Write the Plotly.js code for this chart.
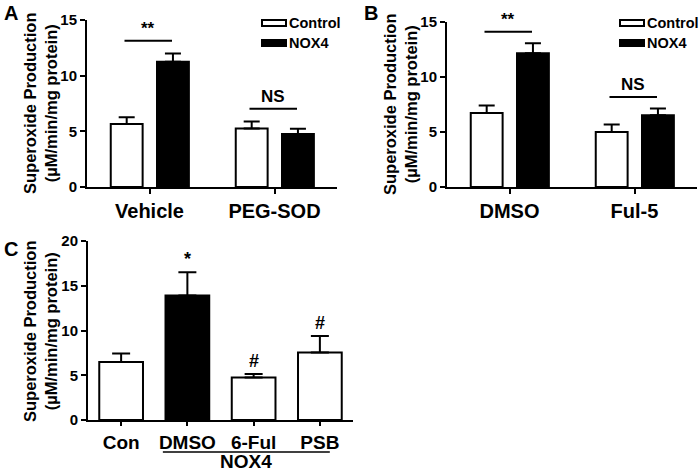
<!DOCTYPE html>
<html><head><meta charset="utf-8">
<script src="https://cdn.plot.ly/plotly-3.0.1.min.js"></script>
<style>html,body{margin:0;padding:0;background:#fff}#chart{width:700px;height:473px}</style>
</head><body><div id="chart"></div>
<script>
// ---- Panel A ----
const catsA = ['Vehicle', 'PEG-SOD'];
const ctrlA = [5.66, 5.25];
const ctrlErrA = [0.60, 0.63];
const noxA = [11.26, 4.75];
const noxErrA = [0.72, 0.48];
const sigA = ['**', 'NS'];
// ---- Panel B ----
const catsB = ['DMSO', 'Ful-5'];
const ctrlB = [6.73, 4.99];
const ctrlErrB = [0.68, 0.70];
const noxB = [12.15, 6.52];
const noxErrB = [0.92, 0.61];
const sigB = ['**', 'NS'];
// ---- Panel C ----
const catsC = ['Con', 'DMSO', '6-Ful', 'PSB'];
const valsC = [6.49, 13.92, 4.75, 7.53];
const errC = [0.93, 2.58, 0.40, 1.86];
const isNoxC = [false, true, false, false];
const marksC = ['', '*', '#', '#'];
const groupLabelC = 'NOX4';
// ---- ticks / names ----
const yTicksAB = [0, 5, 10, 15];
const yTicksC = [0, 5, 10, 15, 20];
const seriesNames = ['Control', 'NOX4'];
const yTitle = 'Superoxide Production<br>(µM/min/mg protein)';

const FAM = 'Liberation Sans, Arial, Helvetica, sans-serif';
const zeros = n => new Array(n).fill(0);
const BW = 0.255;

function barTrace(cats, vals, errs, fill, offset, xa, ya, name) {
  return {
    type: 'bar', x: cats, y: vals, name: name, xaxis: xa, yaxis: ya,
    width: BW, offset: offset, showlegend: false,
    marker: {color: fill, line: {color: '#000', width: 2}},
    error_y: {type: 'data', symmetric: false, array: errs, arrayminus: zeros(vals.length),
              color: '#000', thickness: 2, width: 8}
  };
}

const data = [
  barTrace(catsA, ctrlA, ctrlErrA, '#fff', -0.31, 'x', 'y', seriesNames[0]),
  barTrace(catsA, noxA, noxErrA, '#000', 0.06, 'x', 'y', seriesNames[1]),
  barTrace(catsB, ctrlB, ctrlErrB, '#fff', -0.31, 'x2', 'y2', seriesNames[0]),
  barTrace(catsB, noxB, noxErrB, '#000', 0.06, 'x2', 'y2', seriesNames[1]),
  {
    type: 'bar', x: catsC, y: valsC, xaxis: 'x3', yaxis: 'y3', width: 0.66, showlegend: false,
    marker: {color: isNoxC.map(b => b ? '#000' : '#fff'), line: {color: '#000', width: 2}},
    error_y: {type: 'data', symmetric: false, array: errC, arrayminus: zeros(valsC.length),
              color: '#000', thickness: 2, width: 9}
  }
];

const tickFont = {family: FAM, size: 15, color: '#000', weight: 'bold'};
const catFont = {family: FAM, size: 20, color: '#000', weight: 'bold'};
const catFontC = {family: FAM, size: 19, color: '#000', weight: 'bold'};
const titleFont = {family: FAM, size: 16.5, color: '#000', weight: 'bold'};

function xAx(domain, anchor, n, font, tl) {
  return {domain: domain, anchor: anchor, type: 'category', range: [-0.5, n - 0.5],
    showline: true, linecolor: '#000', linewidth: 2, ticks: 'outside', ticklen: tl,
    tickwidth: 2, tickcolor: '#000', tickfont: font, showgrid: false, zeroline: false,
    fixedrange: true};
}
function yAx(domain, anchor, range, ticks) {
  return {domain: domain, anchor: anchor, range: range, tickvals: ticks,
    showline: true, linecolor: '#000', linewidth: 2, ticks: 'outside', ticklen: 5,
    tickwidth: 2, tickcolor: '#000', tickfont: tickFont, showgrid: false, zeroline: false,
    fixedrange: true};
}

const W = 700, H = 473;
const px = v => v / W, py = v => 1 - v / H;

const layout = {
  width: W, height: H, margin: {l: 0, r: 0, t: 0, b: 0},
  paper_bgcolor: '#fff', plot_bgcolor: '#fff', showlegend: false,
  barmode: 'overlay',
  font: {family: FAM, color: '#000'},
  xaxis: xAx([px(87), px(337)], 'y', catsA.length, catFont, 5),
  yaxis: yAx([py(187), py(20)], 'x', [0, 15], yTicksAB),
  xaxis2: xAx([px(447), px(697)], 'y2', catsB.length, catFont, 5),
  yaxis2: yAx([py(187), py(22)], 'x2', [0, 15], yTicksAB),
  xaxis3: xAx([px(88), px(353)], 'y3', catsC.length, catFontC, 4),
  yaxis3: yAx([py(420), py(241)], 'x3', [0, 20], yTicksC),
  shapes: [], annotations: []
};

// y-axis titles (rotated, two lines)
[[40, 103], [400, 104], [40, 331]].forEach(([x, y]) => {
  layout.annotations.push({xref: 'paper', yref: 'paper', x: px(x), y: py(y), text: yTitle,
    textangle: -90, showarrow: false, xanchor: 'center', yanchor: 'middle', font: titleFont});
});

// significance bars for A and B
function sig(xa, ya, ctrl, ce, nox, ne, labels, gap) {
  for (let i = 0; i < ctrl.length; i++) {
    const top = Math.max(ctrl[i] + ce[i], nox[i] + ne[i]) + gap;
    layout.shapes.push({type: 'line', xref: xa, yref: ya, x0: i - 0.2, x1: i + 0.18,
      y0: top, y1: top, line: {color: '#000', width: 2}});
    layout.annotations.push({xref: xa, yref: ya, x: i - 0.01, y: top, text: labels[i],
      showarrow: false, yanchor: 'bottom', yshift: 1,
      font: {family: FAM, size: 17, color: '#000', weight: 'bold'}});
  }
}
sig('x', 'y', ctrlA, ctrlErrA, noxA, noxErrA, sigA, 1.15);
sig('x2', 'y2', ctrlB, ctrlErrB, noxB, noxErrB, sigB, 1.05);

// markers above C bars
marksC.forEach((m, i) => {
  if (!m) return;
  layout.annotations.push({xref: 'x3', yref: 'y3', x: i, y: valsC[i] + errC[i], text: m,
    showarrow: false, yanchor: 'bottom', yshift: 1,
    font: {family: FAM, size: 18, color: '#000', weight: 'bold'}});
});
// NOX4 group line under C
layout.shapes.push({type: 'line', xref: 'x3', yref: 'paper', x0: 0.63, x1: 3.15,
  y0: py(452), y1: py(452), line: {color: '#000', width: 1.5}});
layout.annotations.push({xref: 'x3', yref: 'paper', x: 1.89, y: py(473), text: groupLabelC,
  showarrow: false, yanchor: 'bottom', yshift: -1, font: catFontC});

// manual legends
function legend(x0, yTop) {
  const rows = [{name: seriesNames[0], fill: '#fff', y: yTop}, {name: seriesNames[1], fill: '#000', y: yTop + 20}];
  rows.forEach(r => {
    layout.shapes.push({type: 'rect', xref: 'paper', yref: 'paper',
      x0: px(x0), x1: px(x0 + 24), y0: py(r.y + 3), y1: py(r.y - 3),
      fillcolor: r.fill, line: {color: '#000', width: 2}});
    layout.annotations.push({xref: 'paper', yref: 'paper', x: px(x0 + 25), y: py(r.y),
      text: r.name, showarrow: false, xanchor: 'left', yanchor: 'middle',
      font: {family: FAM, size: 14.5, color: '#000', weight: 'bold'}});
  });
}
legend(262, 23);
legend(620, 23);

// panel letters
[['A', 2, 0], ['B', 362, 0], ['C', 2, 236]].forEach(([t, x, y]) => {
  layout.annotations.push({xref: 'paper', yref: 'paper', x: px(x), y: py(y), text: t,
    showarrow: false, xanchor: 'left', yanchor: 'top',
    font: {family: FAM, size: 20, color: '#000', weight: 'bold'}});
});

Plotly.newPlot('chart', data, layout, {staticPlot: true, displayModeBar: false});
</script>
</body></html>
